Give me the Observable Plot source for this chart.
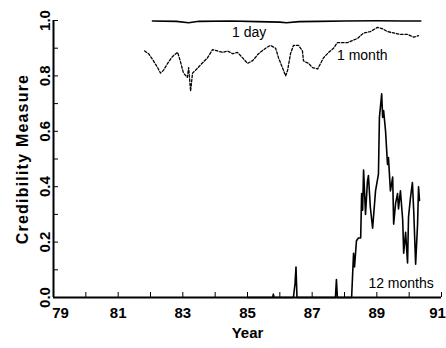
<!DOCTYPE html>
<html><head><meta charset="utf-8">
<script src="https://cdn.jsdelivr.net/npm/d3@7"></script>
<script src="https://cdn.jsdelivr.net/npm/@observablehq/plot@0.6"></script>
<style>
html,body{margin:0;padding:0;background:#fff;}
#chart{width:446px;height:348px;}
</style>
</head><body><div id="chart"></div>
<script>
// ---- data ----
const dayYears   = [82.06, 82.8, 83.18, 83.5, 84.5, 85.3, 86.0, 86.2, 86.6, 87.2, 88.0, 89.0, 89.8, 90.36];
const dayValues  = [0.998, 0.997, 0.992, 0.997, 0.998, 0.996, 0.994, 0.992, 0.996, 0.997, 0.998, 0.999, 0.998, 0.998];

const monthYears  = [81.82, 81.94, 82.06, 82.22, 82.31, 82.40, 82.53, 82.68, 82.84, 82.93,
                     83.02, 83.14, 83.18, 83.24, 83.30, 83.39, 83.55, 83.76, 83.92, 84.07,
                     84.23, 84.38, 84.54, 84.69, 84.85, 85.00, 85.16, 85.34, 85.56, 85.71,
                     85.87, 85.96, 86.08, 86.18, 86.24, 86.33, 86.42, 86.58, 86.70, 86.73,
                     86.79, 86.89, 87.01, 87.17, 87.26, 87.35, 87.51, 87.66, 87.78, 88.09,
                     88.40, 88.59, 88.80, 89.02, 89.18, 89.33, 89.52, 89.73, 89.95, 90.14, 90.29];
const monthValues = [0.89, 0.88, 0.86, 0.83, 0.81, 0.82, 0.845, 0.87, 0.885, 0.85,
                     0.81, 0.795, 0.83, 0.745, 0.81, 0.82, 0.84, 0.865, 0.895, 0.89,
                     0.885, 0.89, 0.88, 0.885, 0.865, 0.845, 0.855, 0.88, 0.90, 0.91,
                     0.90, 0.865, 0.83, 0.80, 0.82, 0.88, 0.91, 0.91, 0.89, 0.855,
                     0.85, 0.845, 0.83, 0.825, 0.845, 0.865, 0.885, 0.90, 0.92, 0.92,
                     0.935, 0.955, 0.96, 0.975, 0.97, 0.96, 0.955, 0.95, 0.95, 0.94, 0.945];

const yearYears  = [85.0, 85.78, 85.80, 85.82, 86.42, 86.47, 86.50, 86.53, 87.72, 87.75, 87.78,
                    88.22, 88.28, 88.31, 88.37, 88.43, 88.50, 88.53, 88.56, 88.59, 88.65,
                    88.71, 88.74, 88.80, 88.87, 88.96, 89.05, 89.08, 89.15, 89.18, 89.21,
                    89.27, 89.33, 89.36, 89.42, 89.49, 89.52, 89.58, 89.64, 89.67, 89.73,
                    89.80, 89.83, 89.89, 89.95, 89.98, 90.04, 90.10, 90.14, 90.20, 90.26, 90.29, 90.32];
const yearValues = [0, 0, 0.012, 0, 0, 0.05, 0.11, 0, 0, 0.065, 0,
                    0, 0.16, 0.11, 0.205, 0.215, 0.215, 0.375, 0.315, 0.46, 0.30,
                    0.42, 0.44, 0.325, 0.25, 0.385, 0.445, 0.65, 0.735, 0.65, 0.675,
                    0.60, 0.48, 0.505, 0.385, 0.435, 0.265, 0.34, 0.375, 0.32, 0.385,
                    0.28, 0.16, 0.235, 0.125, 0.29, 0.36, 0.415, 0.315, 0.12, 0.265, 0.40, 0.35];

const xTicks      = [79, 80, 81, 82, 83, 84, 85, 86, 87, 88, 89, 90, 91];
const xTickLabels = [79, 81, 83, 85, 87, 89, 91];
const yTicks      = [0, 0.1, 0.2, 0.3, 0.4, 0.5, 0.6, 0.7, 0.8, 0.9, 1.0];
const yTickLabels = [0, 0.2, 0.4, 0.6, 0.8, 1.0];

const seriesLabels = [
  {x: 85.05, y: 0.955, text: "1 day"},
  {x: 88.55, y: 0.875, text: "1 month"},
  {x: 89.75, y: 0.05, text: "12 months"}
];

const day   = dayYears.map((x, i) => ({x, y: dayValues[i]}));
const month = monthYears.map((x, i) => ({x, y: monthValues[i]}));
const year  = yearYears.map((x, i) => ({x, y: yearValues[i]}));

const font = "'Liberation Sans', Arial, sans-serif";
const first = xTickLabels[0], last = xTickLabels[xTickLabels.length - 1];
const xLabelOpts = {tickSize: 0, tickPadding: 10, tickFormat: d => String(d), fontSize: 15, fontWeight: "bold"};

const chart = Plot.plot({
  width: 446,
  height: 348,
  marginLeft: 53,
  marginRight: 5,
  marginTop: 20,
  marginBottom: 51,
  style: {fontFamily: font, background: "#fff", color: "#000"},
  x: {domain: [79, 91], label: null},
  y: {domain: [0, 1], label: null},
  marks: [
    // y ticks (inward) and labels
    Plot.axisY({ticks: yTicks, tickSize: 5, dx: 5, tickFormat: () => "", strokeWidth: 1}),
    Plot.axisY({ticks: yTickLabels, tickSize: 0, tickPadding: 4, tickRotate: -90,
                tickFormat: d => d.toFixed(1), fontSize: 15, fontWeight: "bold"}),
    // x ticks (inward) and labels
    Plot.axisX({ticks: xTicks, tickSize: 5, dy: -5, tickFormat: () => "", strokeWidth: 1}),
    Plot.axisX({ticks: xTickLabels.filter(d => d !== first && d !== last), ...xLabelOpts}),
    Plot.axisX({ticks: [first], dx: 7, ...xLabelOpts}),
    Plot.axisX({ticks: [last], dx: -4, ...xLabelOpts}),
    // axis lines
    Plot.ruleX([79], {y1: 0, y2: 1, strokeWidth: 2}),
    Plot.ruleY([0], {strokeWidth: 2}),
    // series
    Plot.line(day, {x: "x", y: "y", stroke: "#000", strokeWidth: 1.6}),
    Plot.line(month, {x: "x", y: "y", stroke: "#000", strokeWidth: 1.3, strokeDasharray: "2.5,1.8"}),
    Plot.line(year, {x: "x", y: "y", stroke: "#000", strokeWidth: 1.6}),
    // series labels
    Plot.text(seriesLabels, {x: "x", y: "y", text: "text", fontSize: 14, fill: "#000", fontFamily: font}),
    // axis titles
    Plot.text(["Year"], {frameAnchor: "bottom", dy: 40, text: d => d, fontSize: 15, fontWeight: "bold"}),
    Plot.text(["Credibility Measure"], {frameAnchor: "left", textAnchor: "middle", dx: -31, rotate: -90,
                                        text: d => d, fontSize: 16, fontWeight: "bold"})
  ]
});
// letter spacing on the y title to match the reference's wide setting
d3.select(chart).selectAll("text").filter(function() { return this.textContent === "Credibility Measure"; })
  .style("letter-spacing", "1.2px");
document.getElementById("chart").appendChild(chart);
</script>
</body></html>
